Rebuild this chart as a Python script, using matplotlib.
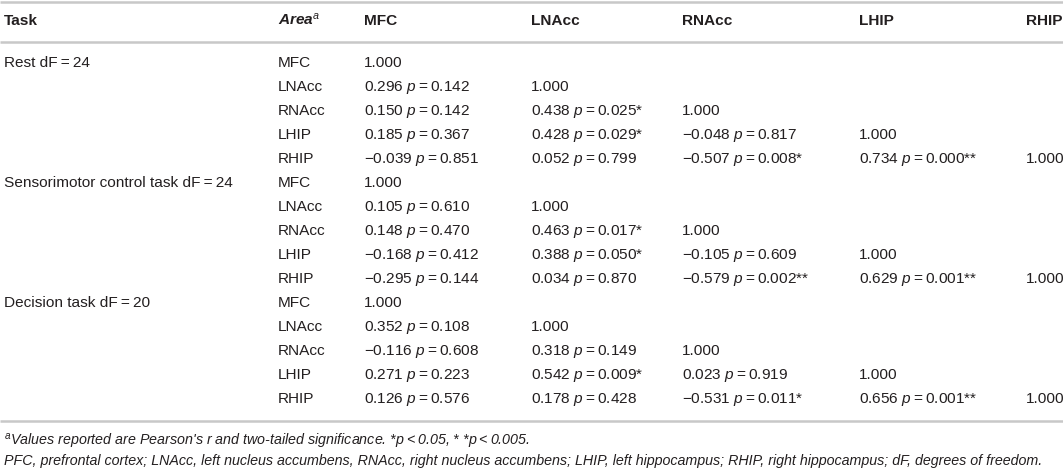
import matplotlib
matplotlib.use('Agg')
import matplotlib.pyplot as plt

plt.rcParams['font.family'] = ['Liberation Sans', 'DejaVu Sans']
plt.rcParams['mathtext.fontset'] = 'custom'
plt.rcParams['mathtext.rm'] = 'Liberation Sans'
plt.rcParams['mathtext.it'] = 'Liberation Sans:italic'
plt.rcParams['mathtext.bf'] = 'Liberation Sans:italic:bold'

# table content
tasks = ['Rest dF\u2009=\u200924', 'Sensorimotor control task dF\u2009=\u200924', 'Decision task dF\u2009=\u200920']
areas = ['MFC', 'LNAcc', 'RNAcc', 'LHIP', 'RHIP']

r_rest = [[1.000],
          [0.296, 1.000],
          [0.150, 0.438, 1.000],
          [0.185, 0.428, -0.048, 1.000],
          [-0.039, 0.052, -0.507, 0.734, 1.000]]
p_rest = [[None],
          [0.142, None],
          [0.142, 0.025, None],
          [0.367, 0.029, 0.817, None],
          [0.851, 0.799, 0.008, 0.000, None]]
s_rest = [[''], ['', ''], ['', '*', ''], ['', '*', '', ''], ['', '', '*', '**', '']]

r_sens = [[1.000],
          [0.105, 1.000],
          [0.148, 0.463, 1.000],
          [-0.168, 0.388, -0.105, 1.000],
          [-0.295, 0.034, -0.579, 0.629, 1.000]]
p_sens = [[None],
          [0.610, None],
          [0.470, 0.017, None],
          [0.412, 0.050, 0.609, None],
          [0.144, 0.870, 0.002, 0.001, None]]
s_sens = [[''], ['', ''], ['', '*', ''], ['', '*', '', ''], ['', '', '**', '**', '']]

r_dec = [[1.000],
         [0.352, 1.000],
         [-0.116, 0.318, 1.000],
         [0.271, 0.542, 0.023, 1.000],
         [0.126, 0.178, -0.531, 0.656, 1.000]]
p_dec = [[None],
         [0.108, None],
         [0.608, 0.149, None],
         [0.223, 0.009, 0.919, None],
         [0.576, 0.428, 0.011, 0.001, None]]
s_dec = [[''], ['', ''], ['', '', ''], ['', '*', '', ''], ['', '', '*', '**', '']]

r_all = [r_rest, r_sens, r_dec]
p_all = [p_rest, p_sens, p_dec]
s_all = [s_rest, s_sens, s_dec]

note1 = "$^{a}$Values reported are Pearson's r and two-tailed significance. *p\u2009<\u20090.05, * *p\u2009<\u20090.005."
note2 = ("PFC, prefrontal cortex; LNAcc, left nucleus accumbens, RNAcc, right nucleus accumbens; "
         "LHIP, left hippocampus; RHIP, right hippocampus; dF, degrees of freedom.")

# layout (pixels)
W, H = 1063, 472
col_x = [364, 531, 682, 859, 1026]
task_x, area_x = 4, 278
header_base = 25
row0_base, row_h = 67, 24
txt = '#231f20'
line_c = '#c8c8c8'
fs = 11.1


def fmt(v):
    s = f'{abs(v):.3f}'
    return ('\u2212' + s) if v < 0 else s


fig = plt.figure(figsize=(W / 100, H / 100), dpi=100)
ax = fig.add_axes([0, 0, 1, 1])
ax.set_xlim(0, W)
ax.set_ylim(H, 0)
ax.axis('off')

# rules
for y in [1.5, 42, 421]:
    ax.plot([0, W], [y, y], color=line_c, lw=1.8, solid_capstyle='butt')

# header
ax.text(task_x, header_base, 'Task', fontsize=fs, fontweight='bold', color=txt, va='baseline')
ax.text(area_x, header_base, r'$\mathbf{Area}^{\mathit{a}}$', fontsize=fs, color=txt, va='baseline')
for x, a in zip(col_x, areas):
    ax.text(x, header_base, a, fontsize=fs, fontweight='bold', color=txt, va='baseline')

# body
for t, task in enumerate(tasks):
    for i, area in enumerate(areas):
        y = row0_base + row_h * (t * len(areas) + i)
        if i == 0:
            ax.text(task_x, y, task, fontsize=fs, color=txt, va='baseline')
        ax.text(area_x, y, area, fontsize=fs, color=txt, va='baseline')
        for j in range(i + 1):
            r = r_all[t][i][j]
            p = p_all[t][i][j]
            if p is None:
                s = fmt(r)
            else:
                s = fmt(r) + r' $\mathit{p}$' + '\u2009=\u2009' + f'{p:.3f}' + s_all[t][i][j]
            ax.text(col_x[j], y, s, fontsize=fs, color=txt, va='baseline')

# footnotes
ax.text(task_x, 446, note1, fontsize=10.3, style='italic', color=txt, va='baseline')
ax.text(task_x, 465, note2, fontsize=10.25, style='italic', color=txt, va='baseline')

plt.savefig('out.png', dpi=100)
